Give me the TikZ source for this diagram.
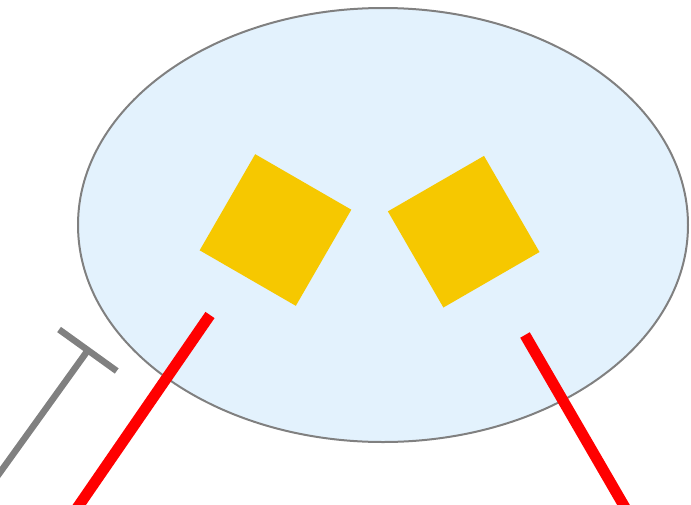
\documentclass[tikz,border=0pt]{standalone}
\usetikzlibrary{shapes.geometric,arrows.meta}
\definecolor{cellfill}{RGB}{227,242,253}
\definecolor{cellline}{RGB}{128,128,128}
\definecolor{receptor}{RGB}{246,200,0}
\definecolor{signal}{RGB}{255,0,0}

\begin{document}
\begin{tikzpicture}[x=1pt, y=-1pt,
  cell/.style={ellipse, draw=cellline, line width=2pt, fill=cellfill, minimum width=610pt, minimum height=434pt, inner sep=0pt},
  block/.style={fill=receptor, minimum size=111pt, inner sep=0pt, rotate=#1},
  link/.style={draw=signal, line width=11pt},
  inhib/.style={draw=cellline, line width=6.5pt, -{Bar[width=71pt]}},
]
\useasboundingbox (0,0) rectangle (691,504);
\clip (0,0) rectangle (691,504);

\node[cell] (cell) at (383,225) {};
\node[block=-30] (recL) at (275.5,230) {};
\node[block=30] (recR) at (463.7,231.7) {};

% free ends of the lines
\coordinate (inL) at (210,315);
\coordinate (outL) at (62,530);
\coordinate (inR) at (525,335);
\coordinate (outR) at (638,530);
\coordinate (outG) at (-27,510);
\coordinate (tipG) at (89.8,347.6);

\draw[link] (inL) -- (outL);
\draw[link] (inR) -- (outR);
\draw[inhib] (outG) -- (tipG);
\end{tikzpicture}
\end{document}
